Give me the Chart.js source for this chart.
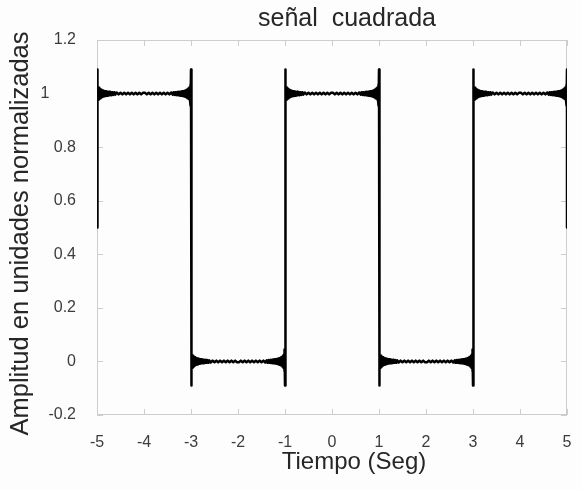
<!DOCTYPE html>
<html lang="es">
<head>
    <meta charset="UTF-8">
    <title>señal cuadrada</title>
    <script src="https://cdn.jsdelivr.net/npm/chart.js"></script>
    <style>
        body {
            margin: 0;
            background: #fdfdfd;
            overflow: hidden;
        }

        canvas {
            display: block;
        }
    </style>
</head>
<body>
    <canvas id="squareChart" width="581" height="490"></canvas>
    <script>
        // flancos de la señal (s) y nivel de cada tramo entre flancos
        const edgeTimes = [-5, -3, -1, 1, 3, 5];
        const plateauLevels = [1, 0, 1, 0, 1];
        const edgeValue = 0.5; // valor en los extremos -5 y 5

        // rizado de Gibbs medido desde un flanco: distancia (s) y desviación sobre el nivel
        const rippleOffsets = [0, 0.004, 0.008, 0.012, 0.016, 0.02, 0.025, 0.03, 0.035, 0.04,
            0.046, 0.052, 0.058, 0.064, 0.07, 0.077, 0.084, 0.091, 0.098, 0.106,
            0.114, 0.122, 0.13, 0.139, 0.148, 0.157, 0.166, 0.176, 0.186, 0.196,
            0.207, 0.218, 0.23, 0.245, 0.26, 0.275, 0.29, 0.31, 0.33, 0.35,
            0.37, 0.39, 0.42, 0.46, 0.5, 0.54, 0.58, 0.62, 0.66, 0.7,
            0.74, 0.78, 0.82, 0.86, 0.9, 0.94, 0.98];
        const rippleValues = [0.09, -0.045, 0.036, -0.031, 0.028, -0.026, 0.024, -0.023, 0.022, -0.021,
            0.02, -0.019, 0.018, -0.017, 0.016, -0.015, 0.015, -0.014, 0.013, -0.013,
            0.012, -0.012, 0.011, -0.011, 0.010, -0.010, 0.009, -0.009, 0.009, -0.008,
            0.008, -0.008, 0.007, -0.007, 0.007, -0.006, 0.006, -0.006, 0.005, -0.005,
            0.005, -0.004, 0.004, -0.003, 0.003, -0.003, 0.003, -0.003, 0.003, -0.003,
            0.003, -0.003, 0.003, -0.003, 0.003, -0.003, 0.003];

        const xTickLabels = ['-5', '-4', '-3', '-2', '-1', '0', '1', '2', '3', '4', '5'];
        const yTickValues = [-0.2, 0, 0.2, 0.4, 0.6, 0.8, 1, 1.2];
        // el "1" queda más separado del eje que el resto
        const yTickLabels = ['-0.2', '0', '0.2', '0.4', '0.6', '0.8', '1\u00a0\u00a0\u00a0\u00a0\u00a0\u00a0', '1.2'];

        // puntos de la señal: cada tramo con el rizado en sus dos extremos
        const wave = [{x: edgeTimes[0], y: edgeValue}];
        plateauLevels.forEach((level, i) => {
            const sign = level === 1 ? 1 : -1;
            const start = edgeTimes[i];
            const end = edgeTimes[i + 1];
            rippleOffsets.forEach((d, k) => {
                wave.push({x: start + d, y: level + sign * rippleValues[k]});
            });
            for (let k = rippleOffsets.length - 1; k >= 0; k--) {
                wave.push({x: end - rippleOffsets[k], y: level + sign * rippleValues[k]});
            }
        });
        wave.push({x: edgeTimes[edgeTimes.length - 1], y: edgeValue});

        const FONT = "'Liberation Sans', Arial, sans-serif";

        // marco gris con marcas hacia dentro en los cuatro lados
        const framePlugin = {
            id: 'frame',
            beforeDatasetsDraw(chart) {
                const {ctx, chartArea: a, scales: {x, y}} = chart;
                const len = 6;
                ctx.save();
                ctx.strokeStyle = '#cdcdcd';
                ctx.lineWidth = 1;
                ctx.strokeRect(a.left + 0.5, a.top + 0.5, a.right - a.left - 1, a.bottom - a.top - 1);
                ctx.beginPath();
                x.ticks.forEach(t => {
                    const px = Math.round(x.getPixelForValue(t.value)) + 0.5;
                    ctx.moveTo(px, a.bottom);
                    ctx.lineTo(px, a.bottom - len);
                    ctx.moveTo(px, a.top);
                    ctx.lineTo(px, a.top + len);
                });
                y.ticks.forEach(t => {
                    const py = Math.round(y.getPixelForValue(t.value)) + 0.5;
                    ctx.moveTo(a.left, py);
                    ctx.lineTo(a.left + len, py);
                    ctx.moveTo(a.right, py);
                    ctx.lineTo(a.right - len, py);
                });
                ctx.stroke();
                ctx.restore();
            }
        };

        // título y rótulos de los ejes
        const captionPlugin = {
            id: 'captions',
            afterDraw(chart) {
                const {ctx, chartArea: a} = chart;
                const cx = (a.left + a.right) / 2;
                const cy = (a.top + a.bottom) / 2;
                ctx.save();
                ctx.fillStyle = '#262626';
                ctx.textAlign = 'center';
                ctx.textBaseline = 'middle';
                ctx.font = '25px ' + FONT;
                ctx.fillText('señal  cuadrada', cx + 15, 19);
                ctx.font = '24px ' + FONT;
                ctx.fillText('Tiempo (Seg)', cx + 22, 462);
                ctx.translate(21, cy + 6);
                ctx.rotate(-Math.PI / 2);
                ctx.font = '25.5px ' + FONT;
                ctx.fillText('Amplitud en unidades normalizadas', 0, 0);
                ctx.restore();
            }
        };

        const chart = new Chart(document.getElementById('squareChart'), {
            type: 'line',
            data: {
                datasets: [{
                    data: wave,
                    borderColor: '#000',
                    borderWidth: 2.5,
                    borderJoinStyle: 'round',
                    pointRadius: 0,
                    tension: 0,
                    fill: false
                }]
            },
            options: {
                responsive: false,
                animation: false,
                layout: {
                    padding: {left: 6, right: 14, top: 40, bottom: 0}
                },
                plugins: {
                    legend: {display: false},
                    tooltip: {enabled: false},
                    title: {display: false}
                },
                scales: {
                    x: {
                        type: 'linear',
                        min: -5,
                        max: 5,
                        grid: {display: false, drawTicks: false},
                        border: {display: false},
                        ticks: {
                            stepSize: 1,
                            padding: 18,
                            color: '#3c3c3c',
                            font: {family: FONT, size: 16},
                            callback: (v, i) => xTickLabels[i]
                        },
                        afterFit: scale => {
                            scale.height = 75;
                            scale.paddingRight = 0; // el margen derecho lo fija layout.padding
                        }
                    },
                    y: {
                        min: -0.2,
                        max: 1.2,
                        grid: {display: false, drawTicks: false},
                        border: {display: false},
                        afterBuildTicks: scale => {
                            scale.ticks = yTickValues.map(v => ({value: v}));
                        },
                        ticks: {
                            padding: 21,
                            color: '#3c3c3c',
                            font: {family: FONT, size: 16},
                            callback: (v, i) => yTickLabels[i]
                        },
                        afterFit: scale => { scale.width = 91; }
                    }
                }
            },
            plugins: [framePlugin, captionPlugin]
        });
    </script>
</body>
</html>
